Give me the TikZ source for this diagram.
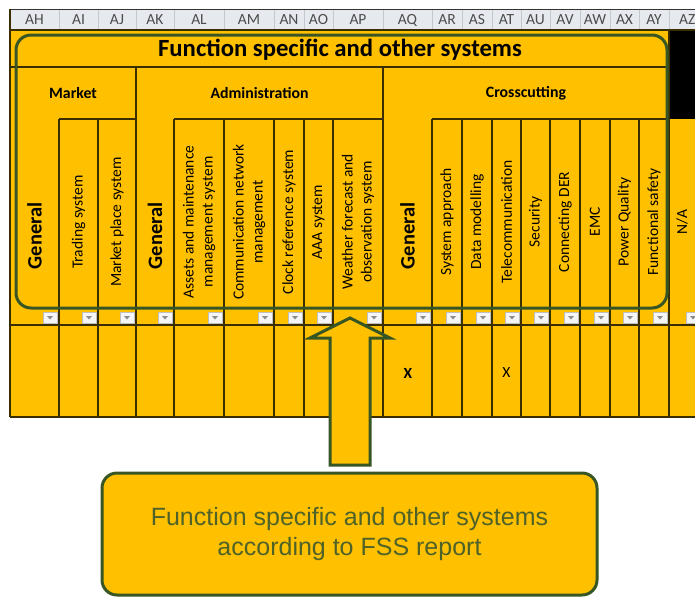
\documentclass[tikz,border=0pt]{standalone}
\usepackage{fontspec}
\setmainfont{Carlito}
\newfontfamily\calloutfont{Liberation Sans}
\usetikzlibrary{positioning}
\definecolor{fssyellow}{HTML}{FFC000}
\definecolor{fssgreen}{HTML}{375623}
\definecolor{fsstext}{HTML}{4F6228}
\definecolor{gridline}{HTML}{3A2E00}
\definecolor{letterbg}{HTML}{E6E9EE}
\definecolor{lettersep}{HTML}{C3C8CF}
\tikzset{
    vtext/.style={rotate=90, font=\fontsize{15.5}{19}\selectfont, align=center, inner sep=0pt},
    vgeneral/.style={rotate=90, font=\fontsize{20.5}{24}\selectfont\bfseries, inner sep=0pt},
    grouplabel/.style={font=\fontsize{15.8}{19}\selectfont\bfseries, inner sep=0pt},
    letter/.style={font=\fontsize{15.5}{18}\selectfont, text=black!70, inner sep=0pt},
    gridrule/.style={draw=gridline, line width=1.3pt},
    filterbtn/.style={fill=white!96!black, draw=black!25, line width=0.4pt},
    fssframe/.style={draw=fssgreen, line width=3pt, rounded corners=15pt}
}

\begin{document}
\begin{tikzpicture}[x=1pt, y=-1pt]
            \useasboundingbox (0,0) rectangle (695,597);
            \clip (0,0) rectangle (695,597);
            \fill[white] (0,0) rectangle (695,597);

            %Sheet
            \fill[letterbg] (10,9) rectangle (700,30);
            \fill[fssyellow] (10,30) rectangle (700,417);
            \fill[black] (669,30) rectangle (700,119);
            \foreach \l/\a/\b in {AH/10/59, AI/59/98, AJ/98/136, AK/136/174, AL/174/224,
                AM/224/274, AN/274/304, AO/304/333, AP/333/383, AQ/383/432, AR/432/462,
                AS/462/492, AT/492/521, AU/521/550, AV/550/580, AW/580/610, AX/610/639,
                AY/639/669} {
                \draw[lettersep, line width=0.8pt] (\b,9) -- (\b,30);
                \node[letter] at ({(\a+\b)/2},20) (col-\l) {\l};
            }
            \node[letter, anchor=west] at (679,20) (col-AZ) {AZ};

            %Lines
            \draw[black!80, line width=1pt] (10,9) -- (700,9);
            \draw[gridrule] (10,9) -- (10,417);
            \draw[gridrule] (10,30) -- (700,30);
            \draw[gridrule] (10,67) -- (669,67);
            \draw[gridrule] (59,119) -- (136,119);
            \draw[gridrule] (174,119) -- (383,119);
            \draw[gridrule] (432,119) -- (669,119);
            \draw[gridrule] (10,325) -- (700,325);
            \draw[gridrule, line width=2.6pt] (10,417) -- (700,417);
            \foreach \x in {136,383} \draw[gridrule] (\x,67) -- (\x,417);
            \draw[gridrule] (669,30) -- (669,417);
            \foreach \x in {59,98,174,224,274,304,333,432,462,492,521,550,580,610,639}
                \draw[gridrule] (\x,119) -- (\x,417);

            %Filter buttons
            \foreach \b in {59,98,136,174,224,274,304,333,383,432,462,492,521,550,580,610,639,669,702} {
                \draw[filterbtn] (\b-16,312) rectangle (\b-2,323);
                \fill[black!45] (\b-12,316) -- (\b-6,316) -- (\b-9,319.5) -- cycle;
            }

            %Nodes
            \node at (340,50) (title) {\fontsize{24.7}{28}\selectfont\bfseries Function specific and other systems};
            \node[grouplabel] at (73,93) (market) {Market};
            \node[grouplabel] at (259.5,93) (admin) {Administration};
            \node[grouplabel] at (526,93) (cross) {Crosscutting};

            \node[vgeneral] at (34.5,236) (mkgen) {General};
            \node[vtext] at (78.5,222) (trading) {Trading system};
            \node[vtext] at (117,222) (marketplace) {Market place system};
            \node[vgeneral] at (155,236) (admgen) {General};
            \node[vtext] at (199,222) (assets) {Assets and maintenance\\management system};
            \node[vtext] at (249,222) (commnet) {Communication network\\management};
            \node[vtext] at (289,222) (clockref) {Clock reference system};
            \node[vtext] at (318.5,222) (aaa) {AAA system};
            \node[vtext] at (358,222) (weather) {Weather forecast and\\observation system};
            \node[vgeneral] at (407.5,236) (crossgen) {General};
            \node[vtext] at (447,222) (sysapp) {System approach};
            \node[vtext] at (477,222) (datamod) {Data modelling};
            \node[vtext] at (506.5,222) (telecom) {Telecommunication};
            \node[vtext] at (535.5,222) (security) {Security};
            \node[vtext] at (565,222) (conder) {Connecting DER};
            \node[vtext] at (595,222) (emc) {EMC};
            \node[vtext] at (624.5,222) (powerq) {Power Quality};
            \node[vtext] at (654,222) (funsafe) {Functional safety};
            \node[vtext] at (682,222) (na) {N/A};

            \node at (408,373) (xgen) {\fontsize{15.5}{18}\selectfont\bfseries X};
            \node at (506.5,373) (xtel) {\fontsize{15.5}{18}\selectfont X};

            %Frame and callout
            \draw[fssframe] (16,35) rectangle (667,308);
            \node[fill=fssyellow, draw=fssgreen, line width=3pt, rounded corners=15pt,
                minimum width=495pt, minimum height=122pt, text=fsstext, align=center,
                font=\calloutfont\fontsize{25}{30}\selectfont] at (349.5,534) (fss)
                {Function specific and other systems\\according to FSS report};
            \coordinate (tip) at (350,318);
            \draw[fill=fssyellow, draw=fssgreen, line width=3pt]
                (tip) -- ++(40,20) -- ++(-20,0) -- (370,465) -- (330,465)
                -- (330,338) -- ++(-20,0) -- cycle;
        \end{tikzpicture}
\end{document}
